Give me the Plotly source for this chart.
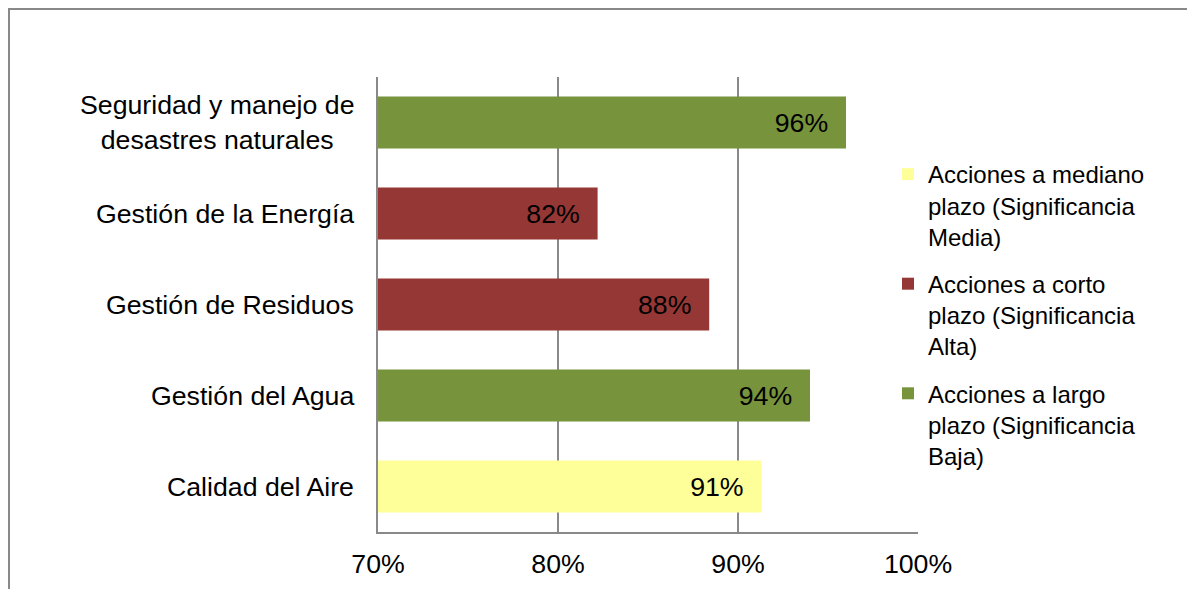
import plotly.graph_objects as go

# Categories (top to bottom in the picture)
categories = [
    "Seguridad y manejo de<br>desastres naturales",
    "Gestión de la Energía",
    "Gestión de Residuos",
    "Gestión del Agua",
    "Calidad del Aire",
]
values = [0.960, 0.822, 0.884, 0.940, 0.913]
groups = ["Baja", "Alta", "Alta", "Baja", "Media"]

series_names = [
    "Acciones a mediano<br>plazo (Significancia<br>Media)",
    "Acciones a corto<br>plazo (Significancia<br>Alta)",
    "Acciones a largo<br>plazo (Significancia<br>Baja)",
]
series_keys = ["Media", "Alta", "Baja"]
series_colors = ["#FFFF99", "#953735", "#77933C"]

x_ticks = [0.7, 0.8, 0.9, 1.0]
x_tick_labels = ["70%", "80%", "90%", "100%"]

FONT = "Liberation Sans, Arial, sans-serif"
FS = 26.7
FS_LEG = 24

fig = go.Figure()
for key, name, color in zip(series_keys, series_names, series_colors):
    ys = [c for c, g in zip(categories, groups) if g == key]
    xs = [v for v, g in zip(values, groups) if g == key]
    fig.add_trace(go.Bar(
        y=ys, x=xs, orientation="h", name=name,
        marker=dict(color=color, line=dict(width=0)),
        texttemplate="%{x:.0%}\u00a0\u00a0",
        textposition="inside", insidetextanchor="end",
        textangle=0,
        textfont=dict(family=FONT, size=FS, color="black"),
        legendgroup=key,
        hoverinfo="skip",
    ))

for c in categories:
    fig.add_annotation(
        x=0, xref="paper", y=c, yref="y", xanchor="right", xshift=-22,
        yanchor="middle", align="center", showarrow=False, text=c,
        font=dict(family=FONT, size=FS, color="black"),
    )

OFF = 8  # page offset of the figure
L, T = 378 - OFF, 77 - OFF
W, H = 918 - 378, 532 - 77
R = 1195 - L - W
B = 589 - T - H


def px(sx):
    return (sx - OFF - L) / W


def py(sy):
    return (532 - sy) / H


fig.add_shape(
    type="rect", xref="paper", yref="paper",
    x0=px(9), x1=px(1240), y0=py(650), y1=py(9),
    line=dict(color="#898989", width=2), fillcolor="rgba(0,0,0,0)",
)

fig.update_layout(
    width=1195, height=589,
    margin=dict(l=L, r=R, t=T, b=B, pad=0),
    paper_bgcolor="white", plot_bgcolor="white",
    barmode="overlay", bargap=0.43,
    font=dict(family=FONT, size=FS, color="black"),
    showlegend=True,
    legend=dict(
        x=px(888), xanchor="left",
        y=py(152), yanchor="top",
        bgcolor="white", valign="top",
        font=dict(family=FONT, size=FS_LEG, color="black"),
        traceorder="grouped", tracegroupgap=13,
    ),
    xaxis=dict(
        range=[0.7, 1.0], tickvals=x_ticks, ticktext=x_tick_labels,
        showgrid=True, gridcolor="#898989", gridwidth=2,
        showline=True, linecolor="#898989", linewidth=2,
        ticks="", ticklabelstandoff=7, zeroline=False,
        tickfont=dict(family=FONT, size=FS, color="black"),
    ),
    yaxis=dict(
        categoryorder="array", categoryarray=categories[::-1],
        showticklabels=False, showgrid=False,
        showline=True, linecolor="#898989", linewidth=2,
        ticks="", zeroline=False,
    ),
)

fig.write_html("out.html")
